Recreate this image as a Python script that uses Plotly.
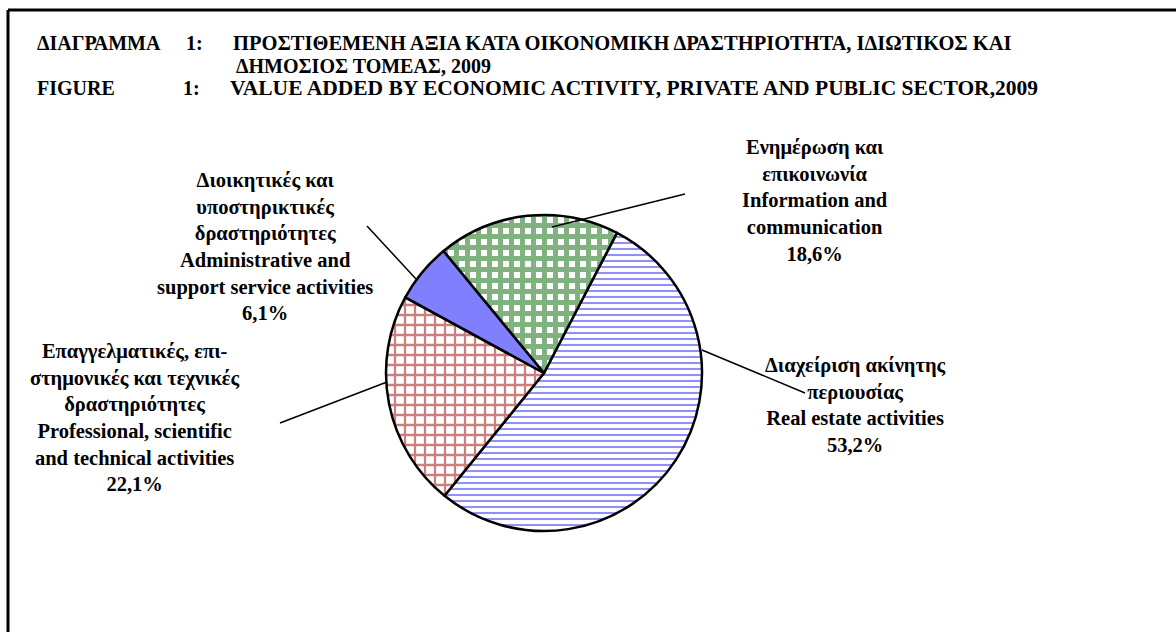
import plotly.graph_objects as go

# data
sectors_el = ["Διαχείριση ακίνητης<br>περιουσίας",
              "Επαγγελματικές, επι-<br>στημονικές και τεχνικές<br>δραστηριότητες",
              "Διοικητικές και<br>υποστηρικτικές<br>δραστηριότητες",
              "Ενημέρωση και<br>επικοινωνία"]
sectors_en = ["Real estate activities",
              "Professional, scientific<br>and technical activities",
              "Administrative and<br>support service activities",
              "Information and<br>communication"]
shares = [53.2, 22.1, 6.1, 18.6]
pct_labels = ["53,2%", "22,1%", "6,1%", "18,6%"]

W, H = 1176, 632
serif = "Liberation Serif, Times New Roman, serif"

fig = go.Figure()

# pie: centre ~(544,373) px, radius ~158 px
cx, cy, r = 544, 373, 158
fig.add_trace(go.Pie(
    labels=[e.replace("<br>", " ") for e in sectors_en],
    values=shares,
    sort=False,
    direction="clockwise",
    rotation=27.5,
    textinfo="none",
    hoverinfo="label+percent",
    domain=dict(x=[(cx - r) / W, (cx + r) / W],
                y=[(H - cy - r) / H, (H - cy + r) / H]),
    marker=dict(
        colors=["white", "white", "#8080FF", "white"],
        line=dict(color="black", width=2.5),
        pattern=dict(
            shape=["-", "+", "", "+"],
            fgcolor=["#2222EE", "#990000", "#8080FF", "#006600"],
            bgcolor=["white", "white", "#8080FF", "white"],
            size=[6, 10, 8, 11],
            solidity=[0.35, 0.4, 0.3, 0.7],
            fillmode="overlay",
        ),
    ),
    showlegend=False,
))

# label positions (px, centre of text block) and leader lines (px)
label_pos = [(855, 405), (135, 417), (265, 246), (815, 201)]
leaders = [((702, 350), (805, 393)),
           ((387, 382), (280, 423)),
           ((416, 279), (367, 226)),
           ((552, 227), (685, 194))]

annotations = []
for el, en, pct, (lx, ly) in zip(sectors_el, sectors_en, pct_labels, label_pos):
    annotations.append(dict(
        x=lx / W, y=1 - ly / H, xref="paper", yref="paper",
        xanchor="center", yanchor="middle", showarrow=False, align="center",
        text="<b>" + el + "<br>" + en + "<br>" + pct + "</b>",
        font=dict(family=serif, size=20.5, color="black"),
    ))

# title lines: text, x, y, size
titles = [
    ("ΔΙΑΓΡΑΜΜΑ", 35, 43, 20),
    ("1:", 184, 43, 20),
    ("ΠΡΟΣΤΙΘΕΜΕΝΗ ΑΞΙΑ ΚΑΤΑ ΟΙΚΟΝΟΜΙΚΗ ΔΡΑΣΤΗΡΙΟΤΗΤΑ, ΙΔΙΩΤΙΚΟΣ ΚΑΙ", 231, 43, 20.5),
    ("ΔΗΜΟΣΙΟΣ ΤΟΜΕΑΣ, 2009", 234, 65.5, 20),
    ("FIGURE", 35, 88, 20),
    ("1:", 181, 88, 20),
    ("VALUE ADDED BY ECONOMIC ACTIVITY, PRIVATE AND PUBLIC SECTOR,2009", 228, 88, 21.5),
]
for t, tx, ty, fs in titles:
    annotations.append(dict(
        x=tx / W, y=1 - ty / H, xref="paper", yref="paper",
        xanchor="left", yanchor="middle", showarrow=False,
        text="<b>" + t + "</b>",
        font=dict(family=serif, size=fs, color="black"),
    ))

shapes = []
for (x0, y0), (x1, y1) in leaders:
    shapes.append(dict(type="line", xref="paper", yref="paper",
                       x0=x0 / W, y0=1 - y0 / H, x1=x1 / W, y1=1 - y1 / H,
                       line=dict(color="black", width=1.5)))
# frame (top and left edges)
shapes.append(dict(type="line", xref="paper", yref="paper",
                   x0=8 / W, y0=1 - 10 / H, x1=1, y1=1 - 10 / H,
                   line=dict(color="black", width=3)))
shapes.append(dict(type="line", xref="paper", yref="paper",
                   x0=8 / W, y0=1 - 10 / H, x1=8 / W, y1=0,
                   line=dict(color="black", width=3)))

fig.update_layout(
    width=W, height=H,
    margin=dict(l=0, r=0, t=0, b=0),
    paper_bgcolor="white",
    plot_bgcolor="white",
    annotations=annotations,
    shapes=shapes,
)

fig.write_html("out.html", config={"displayModeBar": False},
               post_script="document.body.style.margin='0px';")
